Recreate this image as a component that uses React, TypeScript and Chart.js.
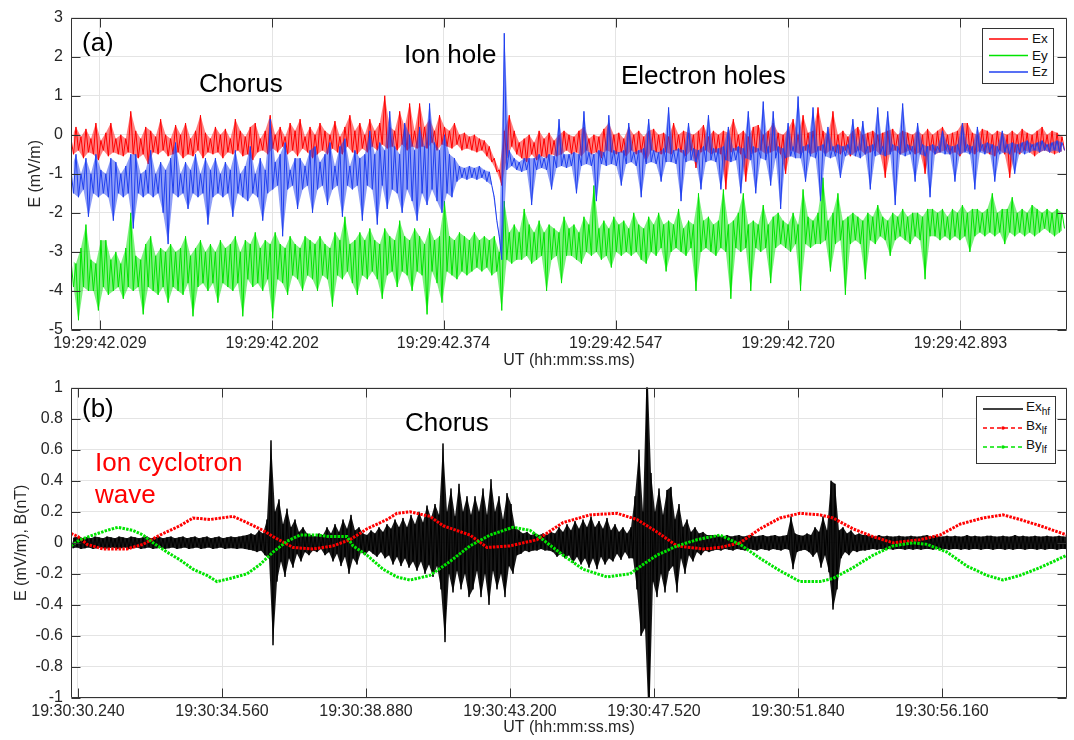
import React, { useEffect, useRef } from 'react';
import { Chart, registerables } from 'chart.js';

Chart.register(...registerables);

const FONT = '"Liberation Sans", Arial, Helvetica, sans-serif';
const AXIS_COLOR = '#262626';
const GRID_COLOR = '#e4e4e4';
const RED = '#ff0000';
const GREEN = '#00e400';
const BLUE = '#2040f0';
const RED_FILL = 'rgba(255,0,0,0.5)';
const GREEN_FILL = 'rgba(0,228,0,0.5)';
const BLUE_FILL = 'rgba(32,64,240,0.5)';
const BLACK_FILL = 'rgba(0,0,0,0.9)';

// ---------------- Panel (a) ----------------
// time in ms after 19:29:42.000; each bin of TOP_DT_MS holds an upper and a lower reading
const TOP_T0_MS = 0;
const TOP_DT_MS = 5;
const TOP_X_MIN = 0;
const TOP_X_MAX = 1000;
const TOP_TICK_MS = [29, 202, 374, 547, 720, 893];
const TOP_TICK_LABELS = ['19:29:42.029', '19:29:42.202', '19:29:42.374', '19:29:42.547', '19:29:42.720', '19:29:42.893'];

const EX_HI = [
  -0.1, 0.2, -0.05, 0.15, -0.1, 0.3, -0.15, 0.05, 0.3, -0.1,
  0.0, -0.1, 0.6, 0.1, -0.1, 0.2, 0.1, -0.05, 0.4, 0.0,
  -0.1, 0.25, 0.0, 0.3, -0.1, 0.1, 0.5, 0.05, -0.1, 0.2,
  0.0, 0.15, -0.1, 0.4, 0.1, -0.05, 0.2, 0.3, -0.1, 0.1,
  0.5, 0.0, 0.2, -0.05, 0.3, 0.1, 0.4, -0.05, 0.2, 0.0,
  0.3, 0.1, 0.0, 0.35, -0.05, 0.2, 0.5, 0.1, 0.3, 0.0,
  0.4, 0.1, 0.3, 1.0, 0.2, 0.1, 0.6, 0.2, 0.8, 0.1,
  0.8, 0.2, 0.4, 0.1, 0.5, 0.2, 0.1, 0.3, 0.0, 0.05,
  -0.05, 0.0, -0.1, -0.15, -0.3, -0.6, -0.9, 0.1, 0.5, 0.1,
  -0.2, -0.1, 0.0, -0.2, 0.1, -0.1, 0.05, -0.15, 0.0, 0.1,
  0.0, -0.05, 0.1, 0.2, -0.1, 0.0, -0.05, 0.15, 0.3, 0.0,
  0.05, -0.1, 0.2, 0.0, 0.1, -0.05, 0.1, 0.15, 0.0, 0.05,
  -0.05, 0.3, 0.0, 0.1, 0.05, 0.0, 0.1, 0.25, -0.05, 0.1,
  0.0, 0.1, 0.05, 0.4, 0.0, 0.1, -0.05, 0.2, 0.25, 0.0,
  0.1, 0.3, 0.05, 0.0, 0.15, 0.4, 0.0, 0.5, 0.05, 0.1,
  0.7, 0.1, 0.0, 0.6, 0.0, 0.1, -0.05, 0.1, 0.2, 0.0,
  0.05, 0.1, 0.0, 0.05, 0.1, 0.15, 0.0, 0.1, 0.05, 0.0,
  0.1, 0.0, 0.15, 0.0, 0.1, 0.2, 0.0, 0.05, 0.1, 0.3,
  0.3, 0.05, 0.0, 0.15, 0.1, 0.0, 0.1, 0.05, 0.0, 0.1,
  0.0, 0.15, 0.05, 0.0, 0.1, 0.2, 0.0, 0.1, 0.05, -0.05,
];
const EX_LO = [
  -0.5, -0.4, -0.6, -0.45, -0.5, -0.65, -0.4, -0.55, -0.45, -0.5,
  -0.55, -0.45, -0.5, -0.6, -0.5, -0.75, -0.45, -0.5, -0.4, -0.55,
  -0.5, -0.45, -0.6, -0.5, -0.55, -0.4, -0.6, -0.45, -0.5, -0.45,
  -0.6, -0.45, -0.5, -0.4, -0.55, -0.5, -0.65, -0.45, -0.4, -0.5,
  -0.35, -0.45, -0.3, -0.5, -0.4, -0.55, -0.35, -0.45, -0.6, -0.5,
  -0.4, -0.5, -0.35, -0.45, -0.5, -0.3, -0.45, -0.5, -0.35, -0.45,
  -0.3, -0.4, -0.25, -0.35, -0.3, -0.4, -0.25, -0.4, -0.3, -0.35,
  -0.3, -0.35, -0.2, -0.4, -0.25, -0.3, -0.35, -0.25, -0.4, -0.35,
  -0.4, -0.45, -0.4, -0.55, -0.7, -0.95, -1.3, -0.6, -0.3, -0.5,
  -0.6, -0.7, -0.5, -0.65, -0.55, -0.6, -0.5, -0.55, -0.5, -0.4,
  -0.5, -0.45, -0.55, -0.4, -0.5, -0.45, -0.6, -0.4, -0.45, -0.5,
  -0.45, -0.55, -0.4, -0.5, -0.45, -0.7, -0.4, -0.45, -0.5, -0.45,
  -0.5, -0.4, -0.45, -0.55, -0.4, -0.85, -0.45, -0.4, -0.5, -0.45,
  -0.5, -1.4, -0.45, -0.4, -0.5, -1.2, -0.5, -0.45, -0.4, -0.5,
  -0.45, -0.4, -0.5, -1.0, -0.4, -0.45, -0.5, -0.4, -0.5, -0.45,
  -0.4, -0.5, -0.4, -0.45, -0.5, -0.4, -0.55, -0.45, -0.4, -0.5,
  -0.45, -0.4, -0.5, -1.1, -0.45, -0.4, -0.5, -0.45, -0.4, -0.5,
  -0.45, -1.0, -0.4, -0.5, -0.45, -0.4, -0.5, -0.45, -0.55, -0.4,
  -0.45, -0.5, -0.4, -0.45, -0.5, -0.55, -0.4, -0.5, -1.1, -0.45,
  -0.5, -0.4, -0.45, -0.55, -0.45, -0.4, -0.45, -0.5, -0.45, -0.4,
];

const EY_HI = [
  -3.2, -3.3, -2.9, -2.3, -3.2, -3.3, -2.7, -2.7, -3.2, -3.0,
  -3.3, -2.9, -2.0, -3.1, -3.2, -2.8, -2.6, -3.1, -2.9, -3.0,
  -2.8, -3.0, -2.9, -2.6, -3.1, -2.9, -2.7, -3.0, -2.8, -3.0,
  -2.7, -2.9, -2.8, -2.6, -3.0, -2.7, -2.8, -2.5, -2.9, -2.7,
  -2.8, -2.5, -2.8, -2.9, -2.6, -2.8, -2.9, -2.6, -2.7, -2.8,
  -2.6, -2.8, -2.9, -2.5, -2.7, -2.1, -2.8, -2.7, -2.5, -2.7,
  -2.4, -2.7, -2.8, -2.4, -2.6, -2.7, -2.2, -2.6, -2.7, -2.4,
  -2.6, -2.8, -2.4, -2.7, -2.6, -1.7, -2.6, -2.7, -2.5, -2.6,
  -2.7, -2.5, -2.7, -2.6, -2.7, -2.6, -3.0, -1.7, -2.5, -2.3,
  -2.5, -1.9, -2.3, -2.5, -2.2, -2.5, -2.3, -2.4, -2.5, -2.1,
  -2.4, -2.3, -2.5, -2.1, -2.3, -1.3, -2.4, -2.2, -2.4, -2.1,
  -2.3, -2.2, -2.4, -2.0, -2.3, -2.4, -2.1, -2.3, -2.0, -2.3,
  -2.2, -2.3, -1.9, -2.4, -2.2, -2.3, -1.5, -2.2, -2.1, -2.3,
  -2.2, -1.4, -2.3, -2.2, -2.0, -1.5, -2.3, -2.2, -2.3, -1.8,
  -2.3, -2.1, -2.0, -2.2, -2.3, -2.0, -2.3, -1.4, -2.1, -2.2,
  -2.0, -1.1, -2.2, -2.0, -1.5, -2.2, -2.1, -2.0, -2.1, -2.2,
  -2.0, -2.1, -1.8, -2.1, -2.2, -2.0, -2.1, -1.9, -2.1, -2.0,
  -2.0, -2.1, -1.9, -1.9, -2.0, -1.9, -2.1, -1.9, -2.0, -1.8,
  -2.0, -1.9, -1.9, -2.0, -1.9, -1.5, -2.0, -1.9, -1.9, -1.6,
  -2.0, -1.9, -2.0, -1.8, -1.9, -2.0, -1.9, -2.0, -1.9, -2.0,
];
const EY_LO = [
  -3.9, -4.75, -3.9, -4.0, -4.0, -4.5, -3.9, -4.1, -4.0, -3.9,
  -4.2, -3.9, -4.0, -3.9, -4.6, -3.9, -4.0, -4.1, -3.9, -4.3,
  -3.9, -4.0, -4.1, -3.8, -4.65, -3.9, -3.8, -4.0, -3.8, -4.3,
  -3.8, -3.9, -4.0, -3.8, -4.65, -3.7, -3.9, -3.8, -4.0, -3.7,
  -4.7, -3.7, -3.8, -4.1, -3.6, -3.7, -4.0, -3.6, -3.7, -4.0,
  -3.6, -3.7, -4.4, -3.6, -3.7, -3.5, -3.8, -4.1, -3.6, -3.7,
  -3.5, -3.7, -4.2, -3.6, -3.5, -3.9, -3.5, -3.6, -4.0, -3.5,
  -3.6, -4.6, -3.5, -3.8, -4.3, -3.5, -3.6, -3.7, -3.5, -3.6,
  -3.5, -3.4, -3.5, -3.4, -3.6, -3.5, -4.5, -3.2, -3.3, -3.2,
  -3.2, -3.1, -3.3, -3.2, -3.1, -4.0, -3.2, -3.1, -3.8, -3.1,
  -3.1, -3.2, -3.3, -3.0, -3.1, -3.0, -3.2, -3.1, -3.4, -3.0,
  -3.1, -3.0, -3.1, -3.0, -3.2, -3.3, -3.0, -3.1, -2.9, -3.5,
  -3.0, -2.9, -3.0, -3.1, -2.9, -4.0, -3.0, -2.9, -3.0, -3.1,
  -2.9, -3.0, -4.2, -2.9, -3.0, -2.9, -4.0, -2.9, -3.0, -2.9,
  -3.8, -2.9, -2.8, -2.9, -3.0, -2.8, -4.0, -2.8, -2.9, -2.8,
  -2.8, -2.7, -3.5, -2.8, -2.7, -4.1, -2.8, -2.7, -2.8, -3.7,
  -2.7, -2.8, -2.6, -2.7, -3.1, -2.7, -2.6, -2.7, -2.8, -2.6,
  -2.7, -3.7, -2.6, -2.6, -2.7, -2.6, -2.7, -2.6, -2.7, -2.6,
  -3.0, -2.6, -2.5, -2.6, -2.5, -2.6, -2.5, -2.8, -2.5, -2.6,
  -2.5, -2.6, -2.5, -2.6, -2.5, -2.4, -2.5, -2.6, -2.5, -2.4,
];

const EZ_HI = [
  -0.9, -0.5, -1.0, -0.6, -1.0, -0.5, -0.9, -1.0, -0.6, -0.7,
  -1.0, -0.8, -0.5, -0.5, -1.0, -0.9, -0.4, -1.0, -0.7, -0.9,
  -0.6, -0.2, -1.0, -0.7, -0.9, -0.5, -1.0, -0.6, -0.9, -0.6,
  -1.0, -0.7, -0.9, -0.4, -1.0, -0.8, -0.3, -1.0, -0.6, -0.9,
  0.4, -0.7, -0.5, -0.2, -0.9, -0.6, -0.6, -0.8, -0.4, -0.3,
  -0.7, -0.5, -0.2, -0.8, -0.3, -0.1, -0.8, -0.4, -0.6, -0.5,
  0.1, -0.5, -0.2, -0.4, 0.6, -0.3, -0.5, 0.3, 0.0, -0.4,
  0.2, -0.3, 0.8, -0.2, -0.4, 0.0, -0.5, -0.6, -0.8, -0.85,
  -0.8, -0.85, -0.8, -0.9, -0.95, -1.6, -2.6, 2.6, -0.4, -0.6,
  -0.7, -0.6, -0.6, -0.6, -0.5, -0.6, -0.5, -0.55, 0.4, -0.5,
  -0.5, -0.45, -0.5, 0.6, -0.45, -0.5, -0.4, -0.45, 0.5, -0.4,
  -0.45, -0.4, 0.3, -0.45, -0.4, -0.35, 0.4, -0.4, -0.45, -0.35,
  0.7, -0.4, -0.35, -0.4, 0.3, -0.35, -0.4, -0.3, 0.5, -0.35,
  -0.35, -0.3, 0.2, -0.35, -0.3, -0.35, 0.6, -0.3, -0.35, 0.85,
  -0.3, 0.6, -0.3, -0.35, 0.3, -0.3, 0.98, -0.3, -0.25, 0.7,
  -0.3, -0.25, 0.2, -0.3, -0.25, -0.3, -0.25, 0.4, -0.3, 0.35,
  -0.3, -0.25, 0.7, -0.3, 0.6, -0.25, -0.3, 0.8, -0.25, -0.3,
  0.3, -0.25, -0.3, -0.25, -0.3, 0.1, -0.25, -0.3, -0.25, 0.3,
  -0.25, -0.3, 0.2, -0.25, -0.2, -0.25, -0.3, 0.1, -0.25, -0.2,
  -0.25, -0.2, -0.15, -0.25, -0.2, -0.15, -0.25, -0.2, -0.15, -0.2,
];
const EZ_LO = [
  -1.5, -1.6, -1.4, -2.1, -1.5, -1.6, -1.5, -1.6, -2.2, -1.5,
  -1.6, -1.5, -2.4, -1.5, -1.6, -1.5, -1.6, -1.5, -2.0, -2.8,
  -1.5, -1.6, -1.5, -1.9, -1.5, -1.6, -1.5, -2.3, -1.6, -1.5,
  -1.6, -1.5, -2.1, -1.5, -1.6, -1.7, -1.5, -1.6, -2.2, -1.5,
  -1.4, -1.3, -2.6, -1.4, -1.3, -1.9, -1.4, -1.3, -2.0, -1.4,
  -1.3, -1.8, -1.4, -1.3, -2.1, -1.3, -1.4, -1.3, -2.2, -1.3,
  -1.4, -2.3, -1.3, -1.9, -1.4, -1.5, -2.0, -1.4, -1.7, -2.2,
  -1.5, -1.8, -1.4, -1.7, -2.0, -1.5, -1.6, -1.2, -1.1, -1.15,
  -1.1, -1.15, -1.1, -1.2, -1.3, -2.2, -3.2, -0.9, -0.8, -0.9,
  -0.95, -0.9, -1.8, -0.9, -0.85, -0.9, -1.4, -0.85, -0.8, -0.85,
  -0.8, -1.5, -0.8, -0.75, -0.8, -1.7, -0.75, -0.8, -0.75, -0.8,
  -1.3, -0.75, -0.7, -0.8, -1.6, -0.75, -0.7, -0.75, -1.2, -0.7,
  -0.7, -0.75, -1.7, -0.7, -0.65, -0.7, -1.4, -0.7, -0.65, -0.7,
  -1.4, -0.65, -0.7, -0.65, -1.5, -0.6, -0.65, -1.5, -0.6, -0.65,
  -1.3, -0.6, -1.9, -0.6, -0.55, -0.6, -0.6, -1.2, -0.55, -0.6,
  -1.7, -0.55, -0.6, -0.55, -1.1, -0.55, -0.5, -0.55, -0.6, -0.5,
  -1.4, -0.55, -0.5, -0.55, -0.5, -1.8, -0.5, -0.55, -0.5, -1.2,
  -0.5, -0.55, -1.6, -0.5, -0.45, -0.5, -0.5, -1.2, -0.5, -0.45,
  -0.5, -1.4, -0.45, -0.5, -0.45, -1.2, -0.5, -0.45, -0.5, -1.0,
  -0.45, -0.5, -0.45, -0.4, -0.45, -0.4, -0.45, -0.4, -0.45, -0.4,
];

// ---------------- Panel (b) ----------------
// time in seconds after 19:30:00; Ex_hf bins of BOT_DT_S hold an upper and a lower reading
const BOT_T0_S = 30.03;
const BOT_DT_S = 0.12;
const BOT_X_MIN = 30.03;
const BOT_X_MAX = 59.91;
const BOT_TICK_S = [30.24, 34.56, 38.88, 43.2, 47.52, 51.84, 56.16];
const BOT_TICK_LABELS = ['19:30:30.240', '19:30:34.560', '19:30:38.880', '19:30:43.200', '19:30:47.520', '19:30:51.840', '19:30:56.160'];

const EXHF_HI = [
  0.03, 0.035, 0.04, 0.03, 0.035, 0.03, 0.04, 0.035, 0.03, 0.04,
  0.035, 0.03, 0.04, 0.035, 0.03, 0.04, 0.035, 0.03, 0.035, 0.04,
  0.03, 0.035, 0.04, 0.03, 0.035, 0.04, 0.03, 0.035, 0.04, 0.03,
  0.035, 0.04, 0.03, 0.035, 0.04, 0.03, 0.035, 0.04, 0.03, 0.035,
  0.04, 0.035, 0.04, 0.045, 0.05, 0.06, 0.05, 0.08, 0.06, 0.15,
  0.66, 0.2, 0.28, 0.12, 0.22, 0.1, 0.15, 0.07, 0.1, 0.06,
  0.05, 0.04, 0.06, 0.05, 0.1, 0.06, 0.12, 0.07, 0.15, 0.09,
  0.18, 0.08, 0.1, 0.06, 0.05, 0.08, 0.06, 0.1, 0.07, 0.12,
  0.09, 0.15, 0.1, 0.16, 0.1, 0.18, 0.12, 0.2, 0.13, 0.24,
  0.16, 0.25, 0.18, 0.64, 0.2, 0.35, 0.17, 0.38, 0.2, 0.3,
  0.18, 0.3, 0.2, 0.35, 0.18, 0.41, 0.2, 0.3, 0.15, 0.32,
  0.25, 0.1, 0.08, 0.06, 0.07, 0.05, 0.06, 0.05, 0.06, 0.05,
  0.07, 0.06, 0.1, 0.07, 0.12, 0.08, 0.14, 0.09, 0.15, 0.1,
  0.17, 0.1, 0.14, 0.09, 0.16, 0.08, 0.12, 0.07, 0.1, 0.06,
  0.1, 0.3, 0.6, 0.2, 1.2, 0.45, 0.2, 0.35, 0.18, 0.34,
  0.36, 0.15, 0.25, 0.1, 0.15, 0.07, 0.1, 0.06, 0.07, 0.05,
  0.05, 0.05, 0.045, 0.04, 0.05, 0.04, 0.045, 0.05, 0.04, 0.045,
  0.05, 0.04, 0.045, 0.05, 0.04, 0.045, 0.05, 0.04, 0.045, 0.05,
  0.17, 0.06, 0.05, 0.045, 0.06, 0.05, 0.1, 0.07, 0.17, 0.08,
  0.4, 0.38, 0.08, 0.1, 0.06, 0.08, 0.05, 0.06, 0.05, 0.05,
  0.045, 0.04, 0.05, 0.04, 0.045, 0.04, 0.04, 0.045, 0.04, 0.04,
  0.045, 0.04, 0.04, 0.045, 0.05, 0.04, 0.045, 0.04, 0.04, 0.045,
  0.04, 0.045, 0.04, 0.04, 0.05, 0.04, 0.045, 0.04, 0.04, 0.045,
  0.045, 0.04, 0.04, 0.045, 0.04, 0.04, 0.05, 0.04, 0.045, 0.04,
  0.04, 0.045, 0.04, 0.04, 0.045, 0.04, 0.04, 0.045, 0.04, 0.04,
];
const EXHF_LO = [
  -0.035, -0.03, -0.04, -0.035, -0.03, -0.04, -0.035, -0.03, -0.04, -0.035,
  -0.03, -0.04, -0.035, -0.03, -0.04, -0.035, -0.03, -0.04, -0.035, -0.03,
  -0.04, -0.035, -0.03, -0.04, -0.035, -0.03, -0.04, -0.035, -0.03, -0.04,
  -0.035, -0.03, -0.04, -0.035, -0.03, -0.04, -0.035, -0.03, -0.04, -0.035,
  -0.035, -0.04, -0.035, -0.04, -0.045, -0.05, -0.06, -0.05, -0.08, -0.1,
  -0.66, -0.25, -0.12, -0.22, -0.1, -0.16, -0.07, -0.12, -0.06, -0.08,
  -0.05, -0.06, -0.04, -0.08, -0.06, -0.12, -0.07, -0.15, -0.09, -0.2,
  -0.1, -0.14, -0.06, -0.08, -0.05, -0.07, -0.09, -0.06, -0.1, -0.08,
  -0.14, -0.09, -0.15, -0.1, -0.16, -0.12, -0.18, -0.12, -0.2, -0.14,
  -0.22, -0.15, -0.3, -0.64, -0.2, -0.32, -0.18, -0.3, -0.2, -0.35,
  -0.3, -0.18, -0.35, -0.2, -0.4, -0.18, -0.3, -0.2, -0.35, -0.15,
  -0.2, -0.08, -0.07, -0.05, -0.06, -0.05, -0.05, -0.04, -0.05, -0.05,
  -0.06, -0.09, -0.07, -0.1, -0.08, -0.13, -0.09, -0.14, -0.1, -0.16,
  -0.1, -0.17, -0.09, -0.14, -0.1, -0.12, -0.07, -0.11, -0.06, -0.1,
  -0.1, -0.3, -0.6, -0.55, -1.2, -0.25, -0.35, -0.2, -0.32, -0.18,
  -0.15, -0.32, -0.1, -0.2, -0.08, -0.12, -0.06, -0.08, -0.05, -0.06,
  -0.05, -0.045, -0.05, -0.04, -0.045, -0.05, -0.04, -0.045, -0.05, -0.04,
  -0.045, -0.05, -0.04, -0.045, -0.05, -0.04, -0.045, -0.05, -0.04, -0.045,
  -0.17, -0.06, -0.05, -0.045, -0.06, -0.09, -0.06, -0.16, -0.08, -0.19,
  -0.43, -0.3, -0.1, -0.06, -0.08, -0.05, -0.06, -0.05, -0.05, -0.045,
  -0.04, -0.045, -0.04, -0.045, -0.04, -0.045, -0.04, -0.04, -0.045, -0.04,
  -0.045, -0.04, -0.045, -0.04, -0.04, -0.045, -0.04, -0.045, -0.04, -0.045,
  -0.04, -0.04, -0.045, -0.04, -0.045, -0.04, -0.04, -0.045, -0.04, -0.04,
  -0.045, -0.04, -0.04, -0.045, -0.04, -0.045, -0.04, -0.04, -0.045, -0.04,
  -0.04, -0.045, -0.04, -0.045, -0.04, -0.04, -0.045, -0.04, -0.04, -0.045,
];

const BX_LF_T = [
  30.03, 30.24, 30.51, 30.99, 31.71, 32.19, 32.7, 33.3, 33.69, 34.2,
  34.89, 35.31, 35.79, 36.09, 36.69, 37.29, 37.89, 38.4, 38.91, 39.51,
  39.81, 40.2, 40.8, 41.19, 42.0, 42.51, 43.2, 44.01, 44.79, 45.6,
  46.41, 47.01, 47.61, 48.21, 48.99, 49.5, 50.1, 50.7, 51.3, 51.9,
  52.5, 52.89, 53.49, 54.09, 54.69, 55.5, 56.1, 56.7, 57.39, 57.99,
  58.5, 59.1, 59.91,
];
const BX_LF = [
  0.06, 0.04, -0.01, -0.04, -0.04, -0.01, 0.05, 0.11, 0.16, 0.15,
  0.17, 0.13, 0.08, 0.04, -0.03, -0.04, -0.02, 0.02, 0.09, 0.15,
  0.19, 0.2, 0.17, 0.11, 0.05, -0.03, -0.02, 0.02, 0.13, 0.18,
  0.19, 0.15, 0.07, -0.02, -0.04, -0.03, 0.0, 0.09, 0.16, 0.19,
  0.18, 0.16, 0.09, 0.04, 0.0, 0.02, 0.05, 0.12, 0.16, 0.18,
  0.15, 0.11, 0.05,
];

const BY_LF_T = [
  30.03, 30.3, 30.69, 31.11, 31.44, 31.89, 32.19, 32.49, 32.91, 33.3,
  33.69, 34.11, 34.41, 34.8, 35.31, 35.7, 36.09, 36.51, 36.9, 37.41,
  37.8, 38.31, 38.49, 38.91, 39.39, 39.81, 40.2, 40.8, 41.4, 42.0,
  42.6, 43.29, 43.8, 44.19, 44.79, 45.39, 46.11, 46.8, 47.19, 47.61,
  48.21, 48.81, 49.5, 50.1, 50.7, 51.3, 51.9, 52.5, 52.89, 53.49,
  54.09, 54.69, 55.29, 55.71, 56.31, 56.91, 57.51, 57.99, 58.5, 59.1,
  59.91,
];
const BY_LF = [
  -0.02, 0.02, 0.05, 0.08, 0.1, 0.08, 0.05, 0.0, -0.06, -0.11,
  -0.17, -0.21, -0.25, -0.23, -0.2, -0.14, -0.06, 0.01, 0.05, 0.05,
  0.04, 0.04, -0.02, -0.08, -0.17, -0.22, -0.24, -0.21, -0.12, -0.02,
  0.05, 0.1, 0.08, 0.02, -0.08, -0.17, -0.22, -0.2, -0.14, -0.08,
  -0.02, 0.02, 0.05, -0.01, -0.1, -0.18, -0.25, -0.25, -0.23, -0.16,
  -0.08, -0.02, 0.0, -0.01, -0.06, -0.15, -0.21, -0.24, -0.21, -0.16,
  -0.08,
];

// ---------------- helpers ----------------
const framePlugin = {
  id: 'matlabFrame',
  afterDatasetsDraw(chart: any) {
    const { ctx, chartArea: a, scales } = chart;
    const L = Math.round(a.left) + 0.5;
    const R = Math.round(a.right) - 0.5;
    const T = Math.round(a.top) + 0.5;
    const B = Math.round(a.bottom) - 0.5;
    const len = 9;
    ctx.save();
    ctx.strokeStyle = '#333333';
    ctx.lineWidth = 1;
    ctx.beginPath();
    ctx.rect(L, T, R - L, B - T);
    scales.x.ticks.forEach((t: any) => {
      const px = Math.round(scales.x.getPixelForValue(t.value)) + 0.5;
      ctx.moveTo(px, B);
      ctx.lineTo(px, B - len);
      ctx.moveTo(px, T);
      ctx.lineTo(px, T + len);
    });
    scales.y.ticks.forEach((t: any) => {
      const py = Math.round(scales.y.getPixelForValue(t.value)) + 0.5;
      ctx.moveTo(L, py);
      ctx.lineTo(L + len, py);
      ctx.moveTo(R, py);
      ctx.lineTo(R - len, py);
    });
    ctx.stroke();
    ctx.restore();
  },
};

// A signal read as per-bin upper and lower readings: a filled band between them
// plus a trace that visits the upper reading, then the lower one half a bin later.
function signalDatasets(
  name: string, hi: number[], lo: number[], t0: number, dt: number,
  color: string, fill: string, order: number, firstIndex: number,
) {
  const hiPts = hi.map((v, i) => ({ x: t0 + i * dt, y: v }));
  const loPts = lo.map((v, i) => ({ x: t0 + (i + 0.5) * dt, y: v }));
  const trace: { x: number; y: number }[] = [];
  hi.forEach((h, i) => {
    trace.push(hiPts[i]);
    trace.push(loPts[i]);
  });
  const hidden = { borderWidth: 0, borderColor: 'rgba(0,0,0,0)', pointRadius: 0, tension: 0 };
  return [
    { label: name + ' upper', data: hiPts, ...hidden, fill: false, order },
    { label: name + ' lower', data: loPts, ...hidden, fill: firstIndex, backgroundColor: fill, order },
    { label: name, data: trace, borderColor: color, borderWidth: 1, pointRadius: 0, tension: 0, fill: false, order },
  ];
}
function pairs(ts: number[], vs: number[]) {
  return vs.map((v, i) => ({ x: ts[i], y: v }));
}

function axisOptions(opts: {
  xMin: number; xMax: number; tickVals: number[]; tickLabels: string[];
  yMin: number; yMax: number; yStep: number; yTitle: string; yTitlePad: number;
  xHeight: number; xTitlePadBottom: number; yFormat: (v: number) => string;
}) {
  const tickFont = { family: FONT, size: 16 };
  return {
    x: {
      type: 'linear' as const,
      min: opts.xMin,
      max: opts.xMax,
      afterBuildTicks: (scale: any) => {
        scale.ticks = opts.tickVals.map((v) => ({ value: v }));
      },
      afterFit: (scale: any) => { scale.height = opts.xHeight; },
      ticks: {
        autoSkip: false,
        maxRotation: 0,
        minRotation: 0,
        padding: 4,
        color: AXIS_COLOR,
        font: tickFont,
        callback: (_v: any, i: number) => opts.tickLabels[i],
      },
      grid: { color: GRID_COLOR, lineWidth: 1, drawTicks: false },
      border: { display: false },
      title: {
        display: true,
        text: 'UT (hh:mm:ss.ms)',
        color: AXIS_COLOR,
        font: { family: FONT, size: 16 },
        padding: { top: 0, bottom: opts.xTitlePadBottom },
      },
    },
    y: {
      type: 'linear' as const,
      min: opts.yMin,
      max: opts.yMax,
      afterFit: (scale: any) => { scale.width = 71; },
      ticks: {
        stepSize: opts.yStep,
        padding: 8,
        color: AXIS_COLOR,
        font: tickFont,
        callback: (v: any) => opts.yFormat(Number(v)),
      },
      grid: { color: GRID_COLOR, lineWidth: 1, drawTicks: false },
      border: { display: false },
      title: {
        display: true,
        text: opts.yTitle,
        color: AXIS_COLOR,
        font: { family: FONT, size: 16 },
        padding: { top: opts.yTitlePad, bottom: 0 },
      },
    },
  };
}

function Txt(props: { left: number; top: number; size: number; color?: string; children: any }) {
  return (
    <div
      style={{
        position: 'absolute',
        left: props.left,
        top: props.top,
        fontSize: props.size,
        lineHeight: `${props.size}px`,
        color: props.color || '#000',
        fontFamily: FONT,
        whiteSpace: 'nowrap',
      }}
    >
      {props.children}
    </div>
  );
}

export default function App() {
  const topRef = useRef<HTMLCanvasElement>(null);
  const botRef = useRef<HTMLCanvasElement>(null);

  useEffect(() => {
    Chart.defaults.font.family = FONT;
    const common = {
      animation: false as const,
      responsive: false,
      events: [] as any[],
      plugins: { legend: { display: false }, tooltip: { enabled: false } },
    };

    const top = new Chart(topRef.current as HTMLCanvasElement, {
      type: 'line',
      data: {
        datasets: [
          ...signalDatasets('Ex', EX_HI, EX_LO, TOP_T0_MS, TOP_DT_MS, RED, RED_FILL, 2, 0),
          ...signalDatasets('Ey', EY_HI, EY_LO, TOP_T0_MS, TOP_DT_MS, GREEN, GREEN_FILL, 1, 3),
          ...signalDatasets('Ez', EZ_HI, EZ_LO, TOP_T0_MS, TOP_DT_MS, BLUE, BLUE_FILL, 0, 6),
        ] as any,
      },
      options: {
        ...common,
        layout: { padding: { left: 0, right: 7, top: 16, bottom: 0 } },
        scales: axisOptions({
          xMin: TOP_X_MIN, xMax: TOP_X_MAX, tickVals: TOP_TICK_MS, tickLabels: TOP_TICK_LABELS,
          yMin: -5, yMax: 3, yStep: 1, yTitle: 'E (mV/m)', yTitlePad: 26,
          xHeight: 40, xTitlePadBottom: 0,
          yFormat: (v) => String(Math.round(v)),
        }) as any,
      },
      plugins: [framePlugin],
    });

    const bot = new Chart(botRef.current as HTMLCanvasElement, {
      type: 'line',
      data: {
        datasets: [
          ...signalDatasets('Exhf', EXHF_HI, EXHF_LO, BOT_T0_S, BOT_DT_S, '#000', BLACK_FILL, 2, 0),
          { label: 'Bxlf', data: pairs(BX_LF_T, BX_LF), borderColor: RED, borderWidth: 3, borderDash: [2.5, 1.2], pointRadius: 0, tension: 0, fill: false, order: 1 },
          { label: 'Bylf', data: pairs(BY_LF_T, BY_LF), borderColor: GREEN, borderWidth: 3, borderDash: [2.5, 1.2], pointRadius: 0, tension: 0, fill: false, order: 0 },
        ] as any,
      },
      options: {
        ...common,
        layout: { padding: { left: 0, right: 7, top: 14, bottom: 0 } },
        scales: axisOptions({
          xMin: BOT_X_MIN, xMax: BOT_X_MAX, tickVals: BOT_TICK_S, tickLabels: BOT_TICK_LABELS,
          yMin: -1, yMax: 1, yStep: 0.2, yTitle: 'E (mV/m), B(nT)', yTitlePad: 12,
          xHeight: 42, xTitlePadBottom: 3,
          yFormat: (v) => String(Math.round(v * 10) / 10),
        }) as any,
      },
      plugins: [framePlugin],
    });

    return () => {
      top.destroy();
      bot.destroy();
    };
  }, []);

  const legendText = { fontFamily: FONT, fontSize: 13.5, color: '#111' };

  return (
    <div style={{ position: 'absolute', left: 0, top: 0, width: 1074, height: 740, background: '#fff', overflow: 'hidden' }}>
      <canvas ref={topRef} width={1074} height={370} style={{ position: 'absolute', left: 0, top: 0, width: 1074, height: 370 }} />
      <canvas ref={botRef} width={1074} height={370} style={{ position: 'absolute', left: 0, top: 370, width: 1074, height: 370 }} />

      {/* annotations panel (a) */}
      <Txt left={82} top={29} size={26}>(a)</Txt>
      <Txt left={199} top={70} size={26}>Chorus</Txt>
      <Txt left={404} top={41} size={26}>Ion hole</Txt>
      <Txt left={621} top={62} size={26}>Electron holes</Txt>

      {/* annotations panel (b) */}
      <Txt left={82} top={395} size={26}>(b)</Txt>
      <Txt left={405} top={409} size={26}>Chorus</Txt>
      <Txt left={95} top={449} size={26} color={RED}>Ion cyclotron</Txt>
      <Txt left={95} top={481} size={26} color={RED}>wave</Txt>

      {/* legend panel (a) */}
      <div style={{ position: 'absolute', left: 982, top: 28, width: 72, height: 56, border: '1.3px solid #333', background: '#fff', boxSizing: 'border-box' }} />
      <svg style={{ position: 'absolute', left: 0, top: 0 }} width={1074} height={740} pointerEvents="none">
        <line x1={989} x2={1028} y1={39} y2={39} stroke={RED} strokeWidth={1.5} />
        <line x1={989} x2={1028} y1={55.5} y2={55.5} stroke={GREEN} strokeWidth={1.5} />
        <line x1={989} x2={1028} y1={72} y2={72} stroke={BLUE} strokeWidth={1.5} />
      </svg>
      <div style={{ position: 'absolute', left: 1032, top: 31, lineHeight: '16px', ...legendText }}>Ex</div>
      <div style={{ position: 'absolute', left: 1032, top: 47.5, lineHeight: '16px', ...legendText }}>Ey</div>
      <div style={{ position: 'absolute', left: 1032, top: 64, lineHeight: '16px', ...legendText }}>Ez</div>

      {/* legend panel (b) */}
      <div style={{ position: 'absolute', left: 976, top: 396, width: 80, height: 68, border: '1.3px solid #333', background: '#fff', boxSizing: 'border-box' }} />
      <svg style={{ position: 'absolute', left: 0, top: 0 }} width={1074} height={740} pointerEvents="none">
        <line x1={983} x2={1023} y1={409} y2={409} stroke="#000" strokeWidth={1.5} />
        <line x1={983} x2={1023} y1={428} y2={428} stroke={RED} strokeWidth={1.6} strokeDasharray="4 3" />
        <circle cx={1003} cy={428} r={1.8} fill={RED} />
        <line x1={983} x2={1023} y1={447} y2={447} stroke={GREEN} strokeWidth={1.6} strokeDasharray="4 3" />
        <circle cx={1003} cy={447} r={1.8} fill={GREEN} />
      </svg>
      <div style={{ position: 'absolute', left: 1026, top: 399, lineHeight: '16px', ...legendText }}>
        Ex<span style={{ fontSize: 10, position: 'relative', top: 4 }}>hf</span>
      </div>
      <div style={{ position: 'absolute', left: 1026, top: 418, lineHeight: '16px', ...legendText }}>
        Bx<span style={{ fontSize: 10, position: 'relative', top: 4 }}>lf</span>
      </div>
      <div style={{ position: 'absolute', left: 1026, top: 437, lineHeight: '16px', ...legendText }}>
        By<span style={{ fontSize: 10, position: 'relative', top: 4 }}>lf</span>
      </div>
    </div>
  );
}
